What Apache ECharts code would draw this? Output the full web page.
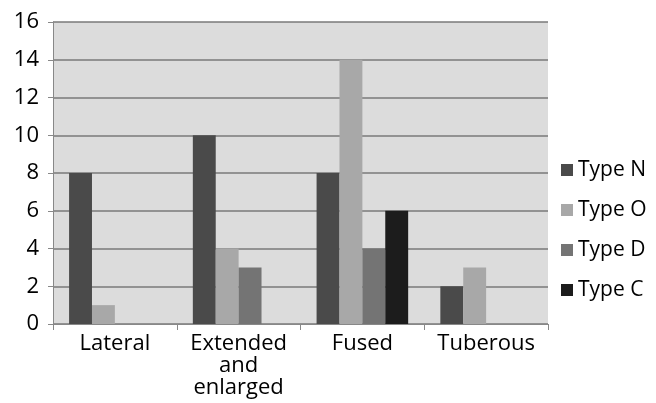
<!DOCTYPE html>
<html><head><meta charset="utf-8">
<script src="https://cdn.jsdelivr.net/npm/echarts@6/dist/echarts.min.js"></script>
<style>html,body{margin:0;padding:0;background:#fff}#c{width:656px;height:403px}</style>
</head><body><div id="c"></div>
<script>
var categories = ['Lateral', 'Extended and enlarged', 'Fused', 'Tuberous'];
var seriesNames = ['Type N', 'Type O', 'Type D', 'Type C'];
var typeN = [8, 10, 8, 2];
var typeO = [1, 4, 14, 3];
var typeD = [0, 3, 4, 0];
var typeC = [0, 0, 6, 0];
var yTicks = [0, 2, 4, 6, 8, 10, 12, 14, 16];

var colors = ['#4a4a4a', '#a8a8a8', '#747474', '#1c1c1c'];
var values = [typeN, typeO, typeD, typeC];
var font = '"Open Sans", Lato, sans-serif';

var chart = echarts.init(document.getElementById('c'));
chart.setOption({
  animation: false,
  backgroundColor: '#ffffff',
  grid: { left: 53, right: 108, top: 22, bottom: 79, show: true, backgroundColor: '#dcdcdc', borderWidth: 0 },
  legend: {
    orient: 'vertical', left: 556, top: 154, itemGap: 18, itemWidth: 12, itemHeight: 12,
    icon: 'rect',
    textStyle: { fontFamily: font, fontSize: 21, lineHeight: 22, color: '#000' },
    data: seriesNames
  },
  xAxis: {
    type: 'category', data: categories,
    axisLine: { lineStyle: { color: '#888', width: 1 } },
    axisTick: { show: true, length: 6, lineStyle: { color: '#888' } },
    axisLabel: {
      fontFamily: font, fontSize: 22, color: '#000', margin: 9, lineHeight: 22, interval: 0,
      formatter: function (v) { return v.split(' ').join('\n'); }
    }
  },
  yAxis: {
    type: 'value', min: yTicks[0], max: yTicks[yTicks.length - 1], interval: 2,
    axisLine: { show: true, lineStyle: { color: '#888' } },
    axisTick: { show: true, length: 5, lineStyle: { color: '#888' } },
    splitLine: { lineStyle: { color: '#7a7a7a', width: 1.5 } },
    axisLabel: { fontFamily: font, fontSize: 22, color: '#000', margin: 14 }
  },
  series: values.map(function (vals, i) {
    return {
      name: seriesNames[i], type: 'bar', data: vals,
      barGap: '0%', barCategoryGap: '26%',
      itemStyle: { color: colors[i] }
    };
  })
});
</script></body></html>
